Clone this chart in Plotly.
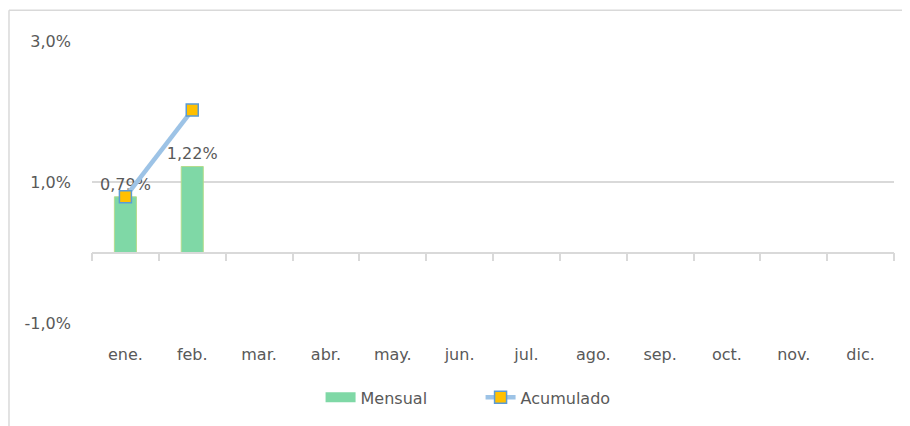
import plotly.graph_objects as go

months = ["ene.", "feb.", "mar.", "abr.", "may.", "jun.", "jul.", "ago.", "sep.", "oct.", "nov.", "dic."]
mensual = [0.0079, 0.0122, None, None, None, None, None, None, None, None, None, None]
acumulado = [0.0079, 0.0202, None, None, None, None, None, None, None, None, None, None]
y_ticks = [-0.01, 0.01, 0.03]
y_ticktext = ["-1,0%", "1,0%", "3,0%"]

FONT = "DejaVu Sans"
TXT = "#595959"
GREEN = "#7fd8a6"

fig = go.Figure()
fig.add_trace(go.Bar(
    x=months, y=mensual, name="Mensual",
    marker=dict(color=GREEN, line=dict(color="#b5dc8c", width=1)),
    width=0.33,
    texttemplate="%{y:.2%}", textposition="outside", constraintext="none",
    textfont=dict(size=16, color=TXT, family=FONT),
    cliponaxis=False, showlegend=False,
    xaxis="x", yaxis="y",
))
# legend entry for the monthly bars (wide swatch like the reference)
fig.add_trace(go.Scatter(
    x=[None], y=[None], name="Mensual", mode="lines",
    line=dict(color=GREEN, width=10),
    xaxis="x", yaxis="y",
))
fig.add_trace(go.Scatter(
    x=months, y=acumulado, name="Acumulado", mode="lines+markers",
    line=dict(color="#9dc3e6", width=4.5),
    marker=dict(symbol="square", size=12, color="#ffc000", line=dict(color="#5b9bd5", width=1.5)),
    xaxis="x2", yaxis="y",
))

fig.update_layout(
    width=902, height=418,
    margin=dict(l=84, r=16, t=33, b=101),
    paper_bgcolor="white", plot_bgcolor="white",
    separators=",.",
    font=dict(family=FONT, size=16, color=TXT),
    bargap=0.67,
    xaxis=dict(
        categoryorder="array", categoryarray=months,
        showline=False, showgrid=False, ticks="", zeroline=False,
        tickfont=dict(size=16, color=TXT, family=FONT), ticklabelstandoff=20,
        range=[-0.5, 11.5],
    ),
    xaxis2=dict(
        matches="x", overlaying="x", anchor="free", position=0.25,
        showline=True, linecolor="#d9d9d9", linewidth=1.5,
        ticks="outside", tickson="boundaries", ticklen=8, tickcolor="#d9d9d9", tickwidth=1.5,
        showticklabels=False, showgrid=False, zeroline=False,
        categoryorder="array", categoryarray=months,
    ),
    yaxis=dict(
        range=[-0.01, 0.03], tickvals=y_ticks, ticktext=y_ticktext,
        showgrid=True, gridcolor="#d9d9d9", gridwidth=1.5,
        zeroline=False, showline=False, ticks="",
        tickfont=dict(size=16, color=TXT, family=FONT), ticklabelstandoff=20,
        domain=[0, 1],
    ),
    showlegend=True,
    legend=dict(
        orientation="h", x=0.285, xanchor="left", y=-0.264, yanchor="middle",
        font=dict(size=16, color=TXT, family=FONT), traceorder="normal",
        entrywidthmode="pixels", entrywidth=115,
    ),
    shapes=[
        dict(type="line", xref="paper", yref="paper", x0=-0.1035, x1=-0.1035, y0=-0.4, y1=1.109,
             line=dict(color="#d9d9d9", width=1.5)),
        dict(type="line", xref="paper", yref="paper", x0=-0.1035, x1=1.03, y0=1.109, y1=1.109,
             line=dict(color="#d9d9d9", width=1.5)),
    ],
)

fig.write_html("out.html")
